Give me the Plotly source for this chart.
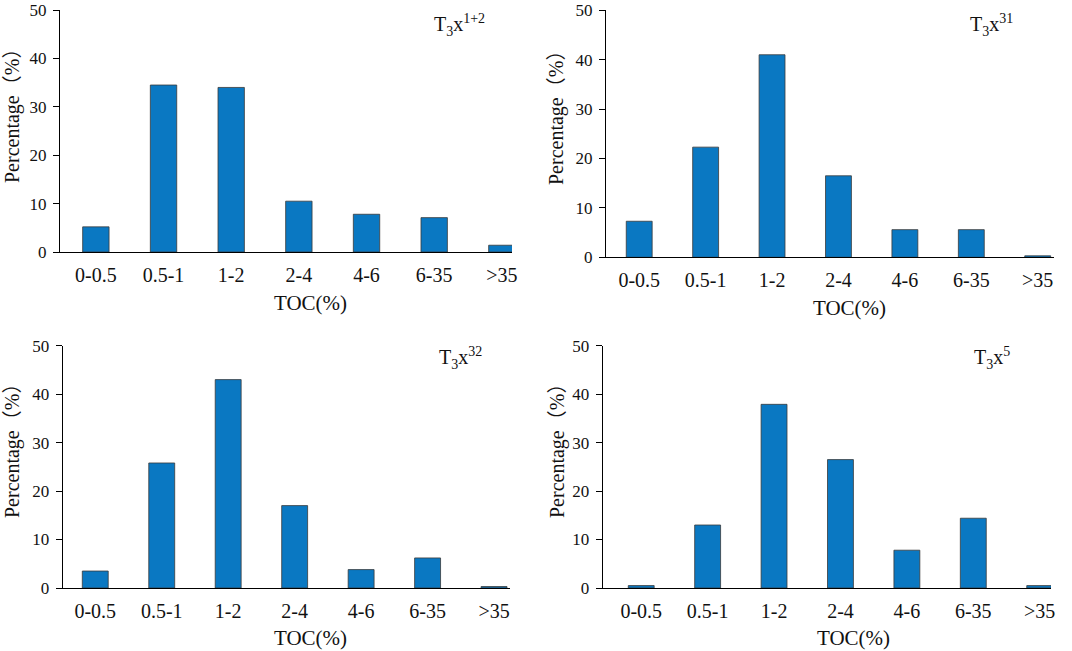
import plotly.graph_objects as go

categories = ["0-0.5", "0.5-1", "1-2", "2-4", "4-6", "6-35", ">35"]
vals_x12 = [5.2, 34.5, 34.0, 10.5, 7.8, 7.1, 1.4]
vals_x31 = [7.3, 22.3, 41.0, 16.5, 5.6, 5.6, 0.3]
vals_x32 = [3.5, 25.8, 43.0, 17.0, 3.8, 6.2, 0.3]
vals_x5 = [0.5, 13.0, 37.9, 26.5, 7.8, 14.4, 0.5]
labels = ["T<sub>3</sub>x<sup>1+2</sup>", "T<sub>3</sub>x<sup>31</sup>",
          "T<sub>3</sub>x<sup>32</sup>", "T<sub>3</sub>x<sup>5</sup>"]
y_ticks = [0, 10, 20, 30, 40, 50]

W, H = 1072, 651
def px(x):
    return x / W
def py(y):
    return 1 - y / H

BAR = "#0a78c2"
SERIF = "Liberation Serif"

panels = [
    dict(vals=vals_x12, dx=(60, 512), dy=(10, 252), xr=(-0.53, 6.15),
         ytit=(12, 111), xtit=(310, 303), lab=(432, 25)),
    dict(vals=vals_x31, dx=(606, 1054), dy=(10.3, 257.3), xr=(-0.50, 6.245),
         ytit=(557, 113), xtit=(849, 308), lab=(968, 25)),
    dict(vals=vals_x32, dx=(62.7, 510), dy=(345.7, 588), xr=(-0.49, 6.24),
         ytit=(12, 446), xtit=(310, 638), lab=(437, 358)),
    dict(vals=vals_x5, dx=(602.7, 1051), dy=(345.7, 588), xr=(-0.58, 6.17),
         ytit=(557, 446), xtit=(853, 638), lab=(972, 358)),
]

fig = go.Figure()
annotations = []
for i, p in enumerate(panels):
    n = "" if i == 0 else str(i + 1)
    fig.add_trace(go.Bar(
        x=categories, y=p["vals"], xaxis="x" + n, yaxis="y" + n,
        width=0.39, marker=dict(color=BAR, line=dict(color="#3a3a3a", width=0.8)),
        showlegend=False))
    fig.layout["xaxis" + n] = dict(
        domain=[px(p["dx"][0]), px(p["dx"][1])], anchor="y" + n,
        type="category", range=list(p["xr"]), showline=True, linecolor="black",
        linewidth=1.2, ticks="", showgrid=False, zeroline=False, automargin=False,
        tickfont=dict(family=SERIF, size=20, color="#111"), ticklabelstandoff=5)
    fig.layout["yaxis" + n] = dict(
        domain=[py(p["dy"][1]), py(p["dy"][0])], anchor="x" + n,
        range=[0, 50], tickvals=y_ticks, showline=True, linecolor="black",
        linewidth=1.2, ticks="outside", ticklen=6, tickwidth=1.2, tickcolor="black",
        showgrid=False, zeroline=False, automargin=False,
        tickfont=dict(family=SERIF, size=17, color="#111"), ticklabelstandoff=3)
    annotations.append(dict(
        x=px(p["ytit"][0]), y=py(p["ytit"][1]), xref="paper", yref="paper",
        text="Percentage（%）", textangle=-90, showarrow=False,
        xanchor="center", yanchor="middle",
        font=dict(family=SERIF + ", Noto Sans CJK SC", size=20, color="#111")))
    annotations.append(dict(
        x=px(p["xtit"][0]), y=py(p["xtit"][1]), xref="paper", yref="paper",
        text="TOC(%)", showarrow=False, xanchor="center", yanchor="middle",
        font=dict(family=SERIF, size=21, color="#111")))
    annotations.append(dict(
        x=px(p["lab"][0]), y=py(p["lab"][1]), xref="paper", yref="paper",
        text=labels[i], showarrow=False, xanchor="left", yanchor="middle",
        font=dict(family=SERIF, size=20, color="#111")))

fig.update_layout(
    width=W, height=H, margin=dict(l=0, r=0, t=0, b=0),
    paper_bgcolor="white", plot_bgcolor="white", annotations=annotations,
    bargap=0.6)

fig.write_html("out.html", config={"displayModeBar": False},
               post_script="document.body.style.margin='0';")
